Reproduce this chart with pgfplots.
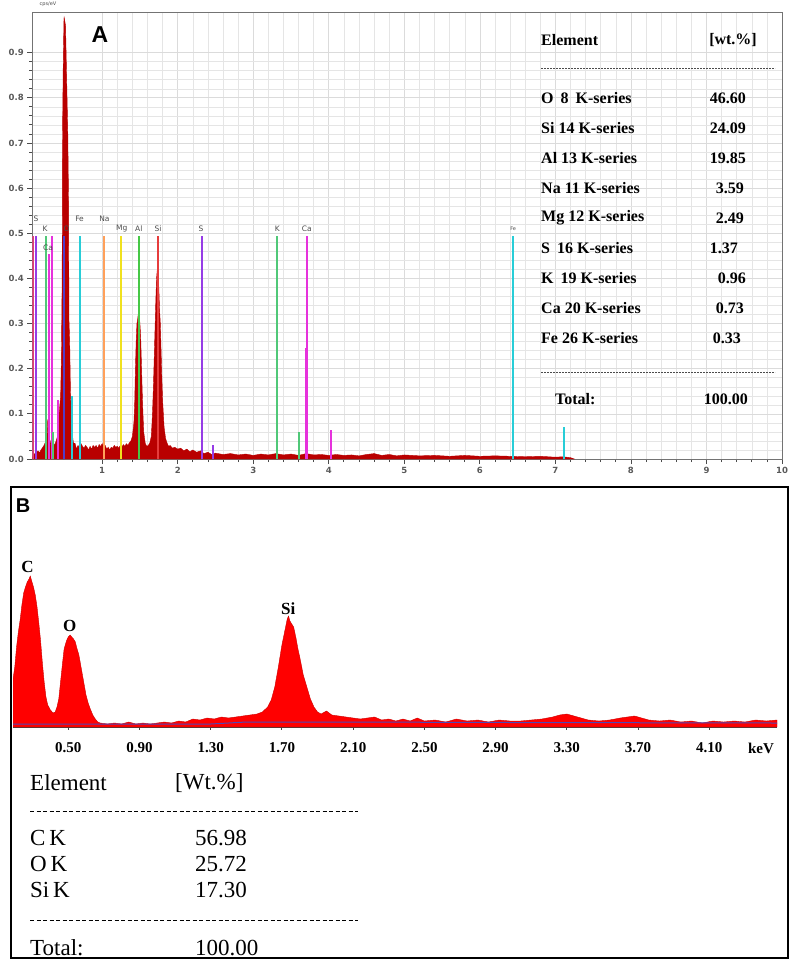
\documentclass[border=0pt]{standalone}
\usepackage{pgfplots}
\pgfplotsset{compat=1.18}
\usepackage{fontspec}
\setmainfont{Liberation Serif}
\newfontfamily\dejavu{DejaVu Sans}
\newfontfamily\arial{Liberation Sans}
\definecolor{specA}{RGB}{185,0,0}
\definecolor{cS}{RGB}{150,60,230}
\definecolor{cK}{RGB}{80,200,120}
\definecolor{cCa}{RGB}{230,50,220}
\definecolor{cO}{RGB}{80,60,200}
\definecolor{cFe}{RGB}{40,205,215}
\definecolor{cNa}{RGB}{255,160,90}
\definecolor{cMg}{RGB}{240,225,30}
\definecolor{cAl}{RGB}{70,200,70}
\definecolor{cSi}{RGB}{230,60,60}
\definecolor{cEdge}{RGB}{230,60,120}
\definecolor{bgline}{RGB}{80,70,180}

\pgfplotstableread{
x y
0.075 0.000
0.09 0.010
0.11 0.012
0.13 0.015
0.15 0.018
0.17 0.014
0.19 0.020
0.21 0.025
0.23 0.030
0.25 0.038
0.26 0.030
0.27 0.045
0.28 0.088
0.29 0.060
0.30 0.035
0.31 0.030
0.32 0.040
0.33 0.028
0.34 0.032
0.36 0.030
0.38 0.035
0.40 0.045
0.42 0.060
0.43 0.100
0.44 0.120
0.45 0.140
0.46 0.220
0.47 0.400
0.475 0.720
0.485 0.880
0.495 0.980
0.505 0.970
0.515 0.960
0.525 0.880
0.535 0.800
0.545 0.720
0.555 0.570
0.56 0.310
0.57 0.260
0.58 0.150
0.59 0.100
0.60 0.060
0.62 0.035
0.64 0.035
0.66 0.022
0.68 0.030
0.70 0.025
0.72 0.034
0.74 0.028
0.76 0.024
0.78 0.030
0.80 0.026
0.82 0.020
0.84 0.028
0.86 0.022
0.88 0.030
0.90 0.026
0.92 0.030
0.94 0.024
0.96 0.032
0.98 0.028
1.00 0.034
1.02 0.026
1.04 0.030
1.06 0.022
1.08 0.026
1.10 0.020
1.12 0.026
1.14 0.024
1.16 0.030
1.18 0.026
1.20 0.028
1.22 0.024
1.24 0.030
1.26 0.026
1.28 0.032
1.30 0.028
1.32 0.034
1.34 0.030
1.36 0.036
1.38 0.040
1.40 0.050
1.42 0.080
1.43 0.120
1.44 0.200
1.45 0.260
1.46 0.300
1.47 0.310
1.48 0.325
1.49 0.320
1.50 0.300
1.51 0.270
1.52 0.210
1.53 0.150
1.54 0.100
1.55 0.060
1.57 0.035
1.59 0.028
1.61 0.030
1.63 0.035
1.65 0.050
1.66 0.080
1.67 0.120
1.68 0.170
1.69 0.230
1.70 0.290
1.71 0.350
1.72 0.400
1.73 0.420
1.74 0.410
1.75 0.380
1.76 0.330
1.77 0.300
1.78 0.240
1.79 0.180
1.80 0.130
1.81 0.100
1.82 0.070
1.84 0.045
1.86 0.035
1.88 0.028
1.90 0.030
1.93 0.024
1.96 0.026
2.00 0.022
2.04 0.024
2.08 0.018
2.12 0.022
2.16 0.016
2.20 0.020
2.25 0.015
2.30 0.018
2.35 0.012
2.40 0.015
2.45 0.010
2.50 0.013
2.60 0.010
2.70 0.012
2.80 0.009
2.90 0.011
3.00 0.008
3.10 0.011
3.20 0.009
3.30 0.012
3.40 0.009
3.50 0.011
3.60 0.008
3.70 0.012
3.80 0.009
3.90 0.010
4.00 0.008
4.10 0.010
4.20 0.008
4.30 0.009
4.40 0.007
4.50 0.010
4.60 0.012
4.70 0.008
4.80 0.010
4.90 0.007
5.00 0.009
5.20 0.007
5.40 0.008
5.60 0.006
5.80 0.008
6.00 0.006
6.20 0.007
6.40 0.006
6.60 0.005
6.80 0.006
7.00 0.004
7.10 0.005
7.20 0.003
7.25 0.000
}\specA

\pgfplotstableread{
x y
0.19 48
0.20 60
0.21 80
0.22 95
0.23 107
0.24 122
0.25 134
0.26 140
0.27 145
0.28 148
0.287 151
0.295 146
0.305 140
0.315 132
0.325 120
0.335 104
0.345 86
0.355 64
0.365 45
0.375 30
0.385 22
0.40 17
0.415 14
0.427 15
0.437 20
0.447 28
0.457 45
0.467 62
0.477 78
0.490 86
0.50 90
0.511 92
0.520 90
0.530 88
0.540 85
0.550 78
0.560 72
0.570 62
0.580 52
0.590 42
0.600 32
0.612 24
0.624 18
0.638 12
0.652 8
0.666 5
0.68 4
0.72 3
0.76 4
0.80 3
0.84 5
0.88 3
0.92 4
0.96 3
1.00 4
1.04 5
1.08 4
1.12 6
1.16 5
1.20 8
1.24 7
1.28 9
1.32 8
1.36 10
1.40 9
1.44 10
1.48 11
1.52 12
1.56 13
1.59 15
1.62 20
1.64 27
1.66 40
1.68 60
1.70 82
1.715 95
1.73 108
1.737 111
1.745 106
1.755 103
1.766 100
1.78 88
1.79 78
1.80 70
1.82 52
1.84 40
1.86 28
1.88 20
1.90 15
1.92 13
1.95 16
1.98 12
2.02 11
2.06 10
2.10 9
2.14 8
2.18 9
2.22 10
2.26 7
2.30 8
2.34 6
2.38 8
2.42 6
2.46 9
2.50 6
2.56 7
2.62 5
2.68 8
2.74 6
2.80 7
2.86 5
2.92 7
2.98 6
3.04 6
3.10 7
3.16 8
3.22 10
3.26 12
3.30 13
3.34 11
3.38 9
3.42 7
3.48 6
3.54 7
3.60 9
3.64 10
3.68 11
3.72 9
3.76 7
3.82 6
3.88 7
3.94 5
4.00 6
4.06 4
4.12 6
4.18 5
4.24 6
4.30 5
4.36 7
4.42 6
4.48 7
}\specB

\begin{document}
\begin{tikzpicture}
\useasboundingbox (0pt,0pt) rectangle (797pt,-970pt);

% ---------------- Panel A ----------------
\begin{axis}[
  at={(32.3pt,-459pt)}, anchor=south west,
  scale only axis, width=749.7pt, height=447pt,
  xmin=0.075, xmax=10, ymin=0, ymax=0.99,
  xtick={1,2,3,4,5,6,7,8,9,10},
  xticklabels={1,2,3,4,5,6,7,8,9,10},
  ytick={0,0.1,0.2,0.3,0.4,0.5,0.6,0.7,0.8,0.9},
  yticklabels={0.0,0.1,0.2,0.3,0.4,0.5,0.6,0.7,0.8,0.9},
  minor x tick num=4, minor y tick num=4,
  grid=both,
  major grid style={gray!28, line width=0.6pt},
  minor grid style={gray!20, line width=0.5pt},
  tick pos=left, tick align=outside,
  major tick length=5pt, minor tick length=3pt,
  axis line style={black!55, line width=0.9pt},
  tick style={black!70, line width=0.8pt},
  ticklabel style={font=\dejavu\bfseries\fontsize{8.5}{10}\selectfont, text=black!65},
]
\addplot[fill=specA, draw=specA, line width=0.4pt] table {\specA} \closedcycle;

\addplot[ycomb, cEdge, line width=2pt] coordinates {(0.08,0.495)};
\addplot[ycomb, cS, line width=2pt] coordinates {(0.124,0.495) (2.32,0.495)};
\addplot[ycomb, cK, line width=2pt] coordinates {(0.257,0.495) (3.32,0.495)};
\addplot[ycomb, cCa, line width=2pt] coordinates {(0.30,0.455) (0.333,0.495) (3.71,0.495)};
\addplot[ycomb, cO, line width=2pt] coordinates {(0.50,0.495)};
\addplot[ycomb, cFe, line width=2pt] coordinates {(0.70,0.495) (6.44,0.495)};
\addplot[ycomb, cNa, line width=2pt] coordinates {(1.02,0.495)};
\addplot[ycomb, cMg, line width=2pt] coordinates {(1.25,0.495)};
\addplot[ycomb, cAl, line width=2pt] coordinates {(1.49,0.495)};
\addplot[ycomb, cSi, line width=2pt] coordinates {(1.74,0.495)};
% small lines
\addplot[ycomb, cCa, line width=2pt] coordinates {(0.41,0.13) (4.03,0.065)};
\addplot[ycomb, cFe, line width=2pt] coordinates {(0.60,0.14) (7.11,0.07)};
\addplot[ycomb, cK, line width=2pt] coordinates {(0.35,0.06) (3.60,0.06)};
\addplot[ycomb, cS, line width=2pt] coordinates {(2.47,0.03)};
\addplot[ycomb, cCa, line width=2.8pt] coordinates {(3.71,0.245)};
\addplot[ycomb, cFe, line width=2.8pt] coordinates {(6.44,0.25)};

\begin{scope}[every node/.style={font=\dejavu\fontsize{7.5}{8}\selectfont, text=black!70, inner sep=0pt}]
\node at (axis cs:0.124,0.533) {S};
\node at (axis cs:0.244,0.51) {K};
\node at (axis cs:0.284,0.468) {Ca};
\node at (axis cs:0.53,0.51) {O};
\node at (axis cs:0.70,0.533) {Fe};
\node at (axis cs:1.03,0.533) {Na};
\node at (axis cs:1.26,0.51) {Mg};
\node at (axis cs:1.485,0.51) {Al};
\node at (axis cs:1.74,0.51) {Si};
\node at (axis cs:2.31,0.51) {S};
\node at (axis cs:3.32,0.51) {K};
\node at (axis cs:3.71,0.51) {Ca};
\node[font=\dejavu\fontsize{5}{6}\selectfont] at (axis cs:6.44,0.51) {Fe};
\end{scope}
\end{axis}

\node[font=\dejavu\fontsize{5}{6}\selectfont, text=black!70] at (48pt,-4pt) {cps/eV};
\node[font=\arial\bfseries\fontsize{23}{26}\selectfont] at (100pt,-35pt) {A};

% table A
\begin{scope}[every node/.style={font=\bfseries\fontsize{16}{18}\selectfont, inner sep=0pt}]
\node[anchor=west] at (541pt,-40pt) {Element};
\node[anchor=east] at (757pt,-40pt) {[wt.\%]};
\draw[black!70, dash pattern=on 2pt off 1pt, line width=0.6pt] (541pt,-68pt) -- (775pt,-68pt);
\node[anchor=west] at (541pt,-98pt) {O\hspace{7pt}8\hspace{7pt}K-series};
\node[anchor=west] at (541pt,-128pt) {Si 14 K-series};
\node[anchor=west] at (541pt,-158pt) {Al 13 K-series};
\node[anchor=west] at (541pt,-188pt) {Na 11 K-series};
\node[anchor=west] at (541pt,-218pt) {Mg 12 K-series};
\node[anchor=west] at (541pt,-248pt) {S\hspace{7pt}16 K-series};
\node[anchor=west] at (541pt,-278pt) {K\hspace{7pt}19 K-series};
\node[anchor=west] at (541pt,-308pt) {Ca 20 K-series};
\node[anchor=west] at (541pt,-338pt) {Fe 26 K-series};
\node[anchor=east] at (746pt,-98pt) {46.60};
\node[anchor=east] at (746pt,-128pt) {24.09};
\node[anchor=east] at (746pt,-158pt) {19.85};
\node[anchor=east] at (744pt,-188pt) {3.59};
\node[anchor=east] at (744pt,-218pt) {2.49};
\node[anchor=east] at (738pt,-248pt) {1.37};
\node[anchor=east] at (746pt,-278pt) {0.96};
\node[anchor=east] at (744pt,-308pt) {0.73};
\node[anchor=east] at (741pt,-338pt) {0.33};
\draw[black!70, dash pattern=on 2pt off 1pt, line width=0.6pt] (541pt,-372pt) -- (775pt,-372pt);
\node[anchor=west] at (555pt,-399pt) {Total:};
\node[anchor=east] at (748pt,-399pt) {100.00};
\end{scope}

% ---------------- Panel B ----------------
\draw[black, line width=2.5pt] (11pt,-487pt) rectangle (788pt,-958pt);
\node[font=\arial\bfseries\fontsize{20}{22}\selectfont] at (23pt,-506pt) {B};

\begin{axis}[
  at={(13pt,-727pt)}, anchor=south west,
  scale only axis, width=764pt, height=200pt,
  xmin=0.19, xmax=4.48, ymin=0, ymax=200,
  axis x line=bottom, axis y line=none,
  axis line style={-, black!75, line width=1.3pt},
  xtick={0.5,0.9,1.3,1.7,2.1,2.5,2.9,3.3,3.7,4.1},
  xticklabels={0.50,0.90,1.30,1.70,2.10,2.50,2.90,3.30,3.70,4.10},
  tick align=center, major tick length=5pt,
  tick style={black!75, line width=0.9pt},
  ticklabel style={font=\bfseries\fontsize{15}{16}\selectfont},
  xticklabel style={yshift=-9pt},
]
\addplot[fill=red, draw=red!80!black, line width=0.4pt] table {\specB} \closedcycle;
\addplot[bgline, line width=1.0pt] coordinates {(0.19,3) (0.7,3) (1.3,3) (1.5,5) (2.0,5) (3.0,4.5) (4.48,4)};
\node[font=\bfseries\fontsize{17}{18}\selectfont] at (axis cs:0.272,160) {C};
\node[font=\bfseries\fontsize{17}{18}\selectfont] at (axis cs:0.508,101) {O};
\node[font=\bfseries\fontsize{17}{18}\selectfont] at (axis cs:1.735,118) {Si};
\end{axis}
\node[font=\bfseries\fontsize{15}{16}\selectfont] at (761pt,-748pt) {keV};

% table B
\begin{scope}[every node/.style={font=\fontsize{23}{25}\selectfont, inner sep=0pt}]
\node[anchor=west] at (30pt,-783pt) {Element};
\node[anchor=west] at (175pt,-783pt) {[Wt.\%]};
\draw[black, dash pattern=on 4pt off 2.5pt, line width=1pt] (30pt,-811pt) -- (358pt,-811pt);
\node[anchor=west] at (30pt,-838pt) {C\,K};
\node[anchor=west] at (30pt,-864pt) {O\,K};
\node[anchor=west] at (30pt,-890pt) {Si\,K};
\node[anchor=west] at (195pt,-838pt) {56.98};
\node[anchor=west] at (195pt,-864pt) {25.72};
\node[anchor=west] at (195pt,-890pt) {17.30};
\draw[black, dash pattern=on 4pt off 2.5pt, line width=1pt] (30pt,-920pt) -- (358pt,-920pt);
\node[anchor=west] at (30pt,-948pt) {Total:};
\node[anchor=west] at (195pt,-948pt) {100.00};
\end{scope}
\end{tikzpicture}
\end{document}
